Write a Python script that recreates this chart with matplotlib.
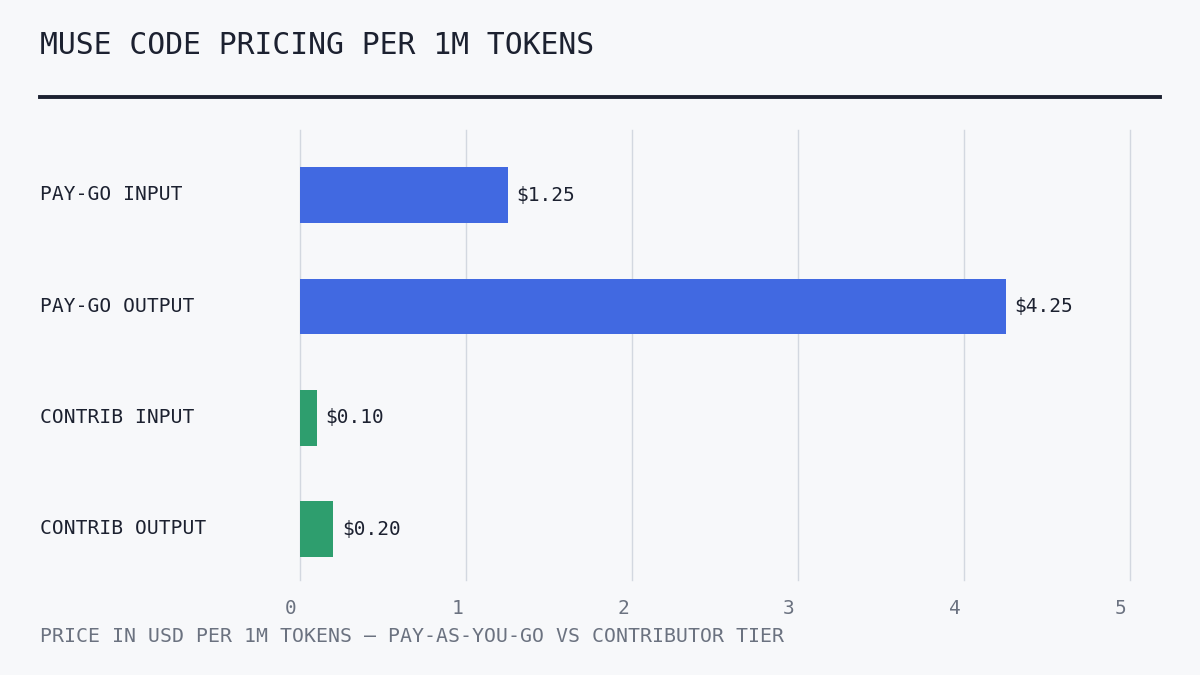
import matplotlib.pyplot as plt
import matplotlib.transforms as mtransforms
from matplotlib.lines import Line2D

categories = ['PAY-GO INPUT', 'PAY-GO OUTPUT', 'CONTRIB INPUT', 'CONTRIB OUTPUT']
prices = [1.25, 4.25, 0.10, 0.20]
value_labels = ['$1.25', '$4.25', '$0.10', '$0.20']
tier = ['paygo', 'paygo', 'contrib', 'contrib']
xticks = [0, 1, 2, 3, 4, 5]

bg = '#f7f8fa'
dark = '#1c2130'
gray = '#6b7280'
colors = {'paygo': '#4169e1', 'contrib': '#2e9e6e'}
mono = ['DejaVu Sans Mono']

fig = plt.figure(figsize=(12, 6.75), dpi=100, facecolor=bg)
ax = fig.add_axes([300/1200, 1 - 580/675, 830/1200, 450/675])
ax.set_facecolor(bg)

y = list(range(len(categories)))
ax.barh(y, prices, height=0.5, color=[colors[t] for t in tier], zorder=3)

ax.set_xlim(0, 5)
ax.set_ylim(3.458, -0.584)
ax.set_xticks(xticks)
ax.set_xticklabels([str(t) for t in xticks], family=mono, fontsize=14, color=gray)
ax.tick_params(axis='x', length=0, pad=14)
offset = mtransforms.ScaledTranslation(-9/100, 0, fig.dpi_scale_trans)
for lab in ax.get_xticklabels():
    lab.set_transform(lab.get_transform() + offset)
ax.set_yticks([])
ax.grid(axis='x', color='#d3d8e0', linewidth=1, zorder=0)
for gl in ax.get_xgridlines():
    gl.set_clip_on(False)
for s in ax.spines.values():
    s.set_visible(False)

for yi, v, lab in zip(y, prices, value_labels):
    ax.annotate(lab, (v, yi), xytext=(6.5, 0), textcoords='offset points',
                va='center', ha='left', family=mono, fontsize=14, color=dark)

for yi, c in zip(y, categories):
    fig.text(40/1200, 1 - (195 + yi*111.3)/675, c, ha='left', va='center',
             family=mono, fontsize=14.1, color=dark)

fig.text(40/1200, 1 - 45/675, 'MUSE CODE PRICING PER 1M TOKENS', ha='left', va='center',
         family=mono, fontsize=21.4, color=dark)
fig.add_artist(Line2D([40/1200, 1160/1200], [1 - 97/675, 1 - 97/675],
                      color=dark, linewidth=2.8, transform=fig.transFigure))
fig.text(40/1200, 1 - 636/675,
         'PRICE IN USD PER 1M TOKENS \u2014 PAY-AS-YOU-GO VS CONTRIBUTOR TIER',
         ha='left', va='center', family=mono, fontsize=14.3, color=gray)

fig.savefig('out.png', dpi=100, facecolor=bg)
